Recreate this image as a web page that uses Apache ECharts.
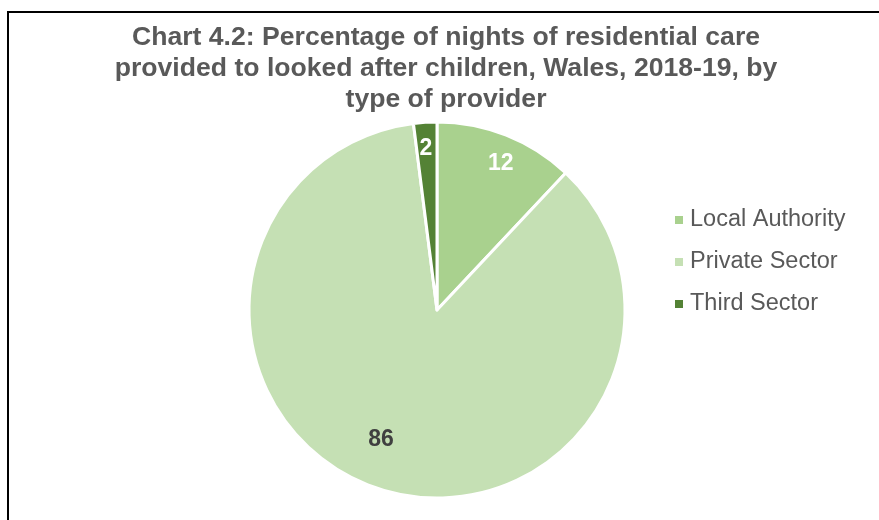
<!DOCTYPE html>
<html>
<head>
<meta charset="utf-8">
<script src="https://cdn.jsdelivr.net/npm/echarts@6/dist/echarts.min.js"></script>
<style>
  html, body { margin: 0; padding: 0; background: #fff; }
  #wrap { position: relative; width: 879px; height: 520px; overflow: hidden; }
  #chart { position: absolute; left: 0; top: 0; width: 879px; height: 520px; }
  #frame { position: absolute; left: 7px; top: 11px; width: 1000px; height: 1000px;
           border-left: 2px solid #000; border-top: 2px solid #000; pointer-events: none; }
</style>
</head>
<body>
<div id="wrap">
  <div id="chart"></div>
  <div id="frame"></div>
</div>
<script>
// Nights of residential care by provider type (percent)
const providers = ['Local Authority', 'Private Sector', 'Third Sector'];
const shares = [12, 86, 2];

const sliceColors = ['#A9D18E', '#C5E0B4', '#548235'];
const labelColors = ['#FFFFFF', '#404040', '#FFFFFF'];
// nudge each label away from the default inside spot
const labelNudge = [[28, -56], [-26, 37], [-5, -65]];

const chart = echarts.init(document.getElementById('chart'), null, { renderer: 'canvas' });

chart.setOption({
  animation: false,
  backgroundColor: '#fff',
  title: {
    text: 'Chart 4.2: Percentage of nights of residential care\nprovided to looked after children, Wales, 2018-19, by\ntype of provider',
    left: 446,
    top: 22,
    padding: 0,
    textAlign: 'center',
    textStyle: {
      fontFamily: 'Liberation Sans, Arial, sans-serif',
      fontSize: 26.6,
      fontWeight: 'bold',
      color: '#595959',
      lineHeight: 31
    }
  },
  legend: {
    orient: 'vertical',
    left: 675,
    top: 208,
    padding: 0,
    itemWidth: 8,
    itemHeight: 8,
    itemGap: 18,
    icon: 'rect',
    itemStyle: { borderWidth: 0 },
    data: providers,
    textStyle: {
      fontFamily: 'Liberation Sans, Arial, sans-serif',
      fontSize: 23.5,
      color: '#595959',
      padding: [0, 0, 0, 2]
    }
  },
  series: [{
    type: 'pie',
    center: [437, 310],
    radius: ['0%', 188],
    startAngle: 90,
    clockwise: true,
    silent: true,
    itemStyle: { borderColor: '#fff', borderWidth: 3 },
    label: {
      show: true,
      position: 'inside',
      formatter: '{c}',
      fontFamily: 'Liberation Sans, Arial, sans-serif',
      fontSize: 23,
      fontWeight: 'bold'
    },
    labelLine: { show: false },
    labelLayout: function (p) {
      const n = labelNudge[p.dataIndex];
      return { dx: n[0], dy: n[1] };
    },
    data: providers.map((name, i) => ({
      name: name,
      value: shares[i],
      itemStyle: { color: sliceColors[i] },
      label: { color: labelColors[i] }
    }))
  }]
});
</script>
</body>
</html>
